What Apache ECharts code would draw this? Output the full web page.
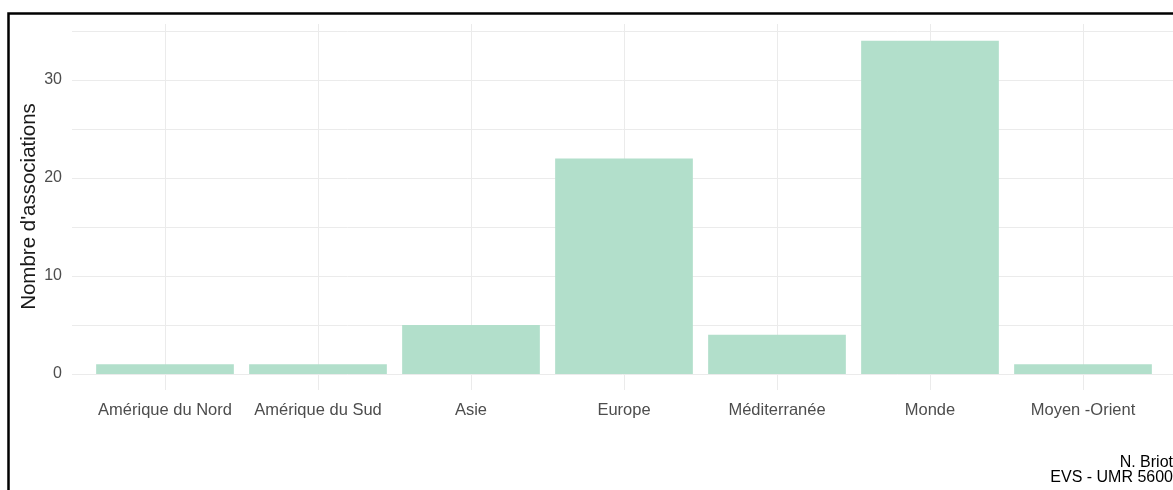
<!DOCTYPE html>
<html><head><meta charset="utf-8">
<script src="https://cdn.jsdelivr.net/npm/echarts@6/dist/echarts.min.js"></script>
<style>html,body{margin:0;padding:0;background:#fff}#c{width:1173px;height:490px}</style>
</head><body><div id="c"></div>
<script>
const categories = ["Amérique du Nord","Amérique du Sud","Asie","Europe","Méditerranée","Monde","Moyen -Orient"];
const counts = [1, 1, 5, 22, 4, 34, 1];
const yTickLabels = [0, 10, 20, 30];
const yTitle = "Nombre d'associations";
const caption = "N. Briot\nEVS - UMR 5600";

const chart = echarts.init(document.getElementById('c'), null, {renderer:'canvas'});
const font = "Liberation Sans, Arial, sans-serif";
const gridColor = '#ebebeb';
const option = {
  animation:false,
  backgroundColor:'#fff',
  grid:[
    {left:72, right:0, top:31, height:343},
    {left:88.5, width:1071, top:31, height:343},
    {left:165, width:918, top:24, height:366}
  ],
  xAxis:[
    {gridIndex:0, type:'value', show:false},
    {gridIndex:1, type:'category', data:categories, axisLine:{show:false}, axisTick:{show:false}, splitLine:{show:false},
     axisLabel:{color:'#4d4d4d', fontFamily:font, fontSize:16.5, margin:28, interval:0}},
    {gridIndex:2, type:'value', min:0, max:categories.length - 1, interval:1, axisLine:{show:false}, axisTick:{show:false}, axisLabel:{show:false},
     splitLine:{show:true, lineStyle:{color:gridColor, width:1}}}
  ],
  yAxis:[
    {gridIndex:0, type:'value', min:0, max:35, interval:5, axisLine:{show:false}, axisTick:{show:false},
     axisLabel:{color:'#4d4d4d', fontFamily:font, fontSize:16, margin:10,
       formatter:v => yTickLabels.indexOf(v) >= 0 ? String(v) : ''},
     splitLine:{show:true, lineStyle:{color:gridColor, width:1}}},
    {gridIndex:1, type:'value', min:0, max:35, show:false},
    {gridIndex:2, type:'value', show:false}
  ],
  series:[{
    type:'bar', xAxisIndex:1, yAxisIndex:1, data:counts, barCategoryGap:'10%',
    itemStyle:{color:'#b2dfcb'}, silent:true
  }],
  graphic:[
    {type:'rect', shape:{x:8.5, y:13.5, width:1300, height:700}, style:{fill:null, stroke:'#000', lineWidth:2.5}, z:100},
    {type:'text', x:29, y:206.5, rotation:Math.PI/2,
     style:{text:yTitle, fill:'#1a1a1a', font:'20.5px '+font, textAlign:'center', textVerticalAlign:'middle'}, z:100},
    {type:'text', right:0, top:455, style:{text:caption, fill:'#000', font:'16px '+font, textAlign:'right', lineHeight:15}, z:100}
  ]
};
chart.setOption(option);
</script></body></html>
